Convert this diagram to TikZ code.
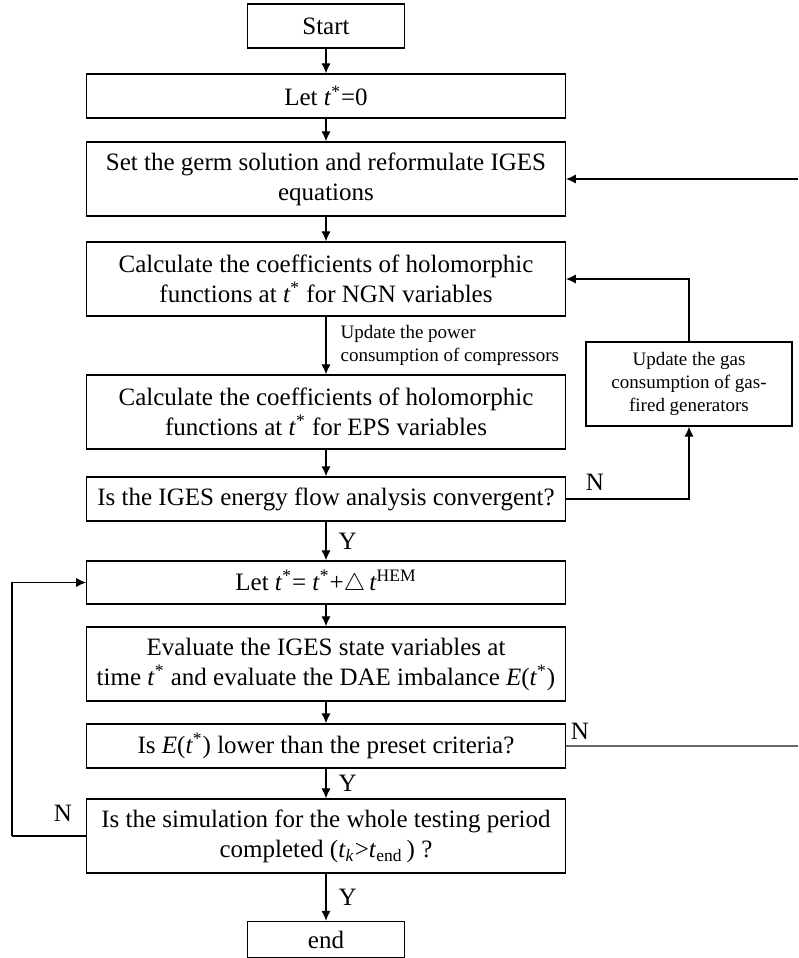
\documentclass[tikz,border=0pt]{standalone}
\usepackage{fontspec}
\setmainfont{Liberation Serif}
\usetikzlibrary{arrows.meta}

\newcommand{\tst}{\textit{t}\textsuperscript{*}}
\newcommand{\bigsize}{\fontsize{12.5}{15}\selectfont}
\newcommand{\smallsize}{\fontsize{9.5}{11.5}\selectfont}

\tikzset{
  procbox/.style={draw, line width=0.7pt, minimum width=239.25pt, inner sep=0pt, align=center, font=\bigsize},
  termbox/.style={draw, line width=0.7pt, minimum width=78.5pt, inner sep=0pt, font=\bigsize},
  flow/.style={-{Latex[length=5pt,width=4.6pt]}, line width=0.6pt},
  yn/.style={font=\bigsize, inner sep=0pt}
}

\begin{document}
\begin{tikzpicture}[x=0.5pt, y=-0.5pt]
    \useasboundingbox (0,0) rectangle (798,958);
    % Main column
    \node[termbox, minimum height=22pt] (start) at (326,26) {Start};
    \node[procbox, minimum height=22pt] (let0) at (326,96) {Let \tst=0};
    \node[procbox, minimum height=37pt] (germ) at (326,179) {Set the germ solution and reformulate IGES\\equations};
    \node[procbox, minimum height=37pt] (ngn) at (326,279) {Calculate the coefficients of holomorphic\\functions at \tst{} for NGN variables};
    \node[procbox, minimum height=37pt] (eps) at (326,412) {Calculate the coefficients of holomorphic\\functions at \tst{} for EPS variables};
    \node[procbox, minimum height=22pt] (conv) at (326,499) {Is the IGES energy flow analysis convergent?};
    \node[procbox, minimum height=21.5pt] (lett) at (326,582.5) {Let \tst= \tst+$\bigtriangleup$\,\textit{t}\textsuperscript{HEM}};
    \node[procbox, minimum height=37pt] (eval) at (326,664) {Evaluate the IGES state variables at\\time \tst{} and evaluate the DAE imbalance \textit{E}(\tst)};
    \node[procbox, minimum height=22pt] (ise) at (326,746) {Is \textit{E}(\tst) lower than the preset criteria?};
    \node[procbox, minimum height=37pt] (sim) at (326,836) {Is the simulation for the whole testing period\\completed (\textit{t}\textsubscript{\textit{k}}>\textit{t}\textsubscript{end}\,) ?};
    \node[termbox, minimum height=18pt] (end) at (326,939.5) {end};
    
    % Side box
    \node[draw, line width=0.7pt, minimum width=103pt, minimum height=42pt, inner sep=0pt, align=center, font=\smallsize] (gas) at (689,384) {Update the gas\\consumption of gas-\\fired generators};
    
    % Free ends at the margins
    \coordinate (rtop) at (798,179);
    \coordinate (rbot) at (798,746);
    \coordinate (lft) at (12,836);
    
    % Straight flow
    \draw[flow] (start) -- (let0);
    \draw[flow] (let0) -- (germ);
    \draw[flow] (germ) -- (ngn);
    \draw[flow] (ngn) -- (eps) node[midway, right=7pt, align=left, font=\smallsize, inner sep=0pt] {Update the power\\consumption of compressors};
    \draw[flow] (eps) -- (conv);
    \draw[flow] (conv) -- (lett) node[midway, right=6pt, yn] {Y};
    \draw[flow] (lett) -- (eval);
    \draw[flow] (eval) -- (ise);
    \draw[flow] (ise) -- (sim) node[midway, right=6pt, yn] {Y};
    \draw[flow] (sim) -- (end) node[midway, right=6pt, yn] {Y};
    
    % Loops
    \draw[flow] (conv.east) -| (gas.south);
    \node[yn] (n1) at (595,482) {N};
    \draw[flow] (gas.north) |- (ngn.east);
    \draw[line width=0.6pt, black!60] (ise.east) -- (rbot);
    \node[yn] (n2) at (580,731) {N};
    \draw[flow] (rtop) -- (germ.east);
    \draw[line width=0.6pt] (sim.west) -- (lft);
    \draw[flow] (lft) |- (lett.west);
    \node[yn] (n3) at (63,813) {N};
\end{tikzpicture}
\end{document}
